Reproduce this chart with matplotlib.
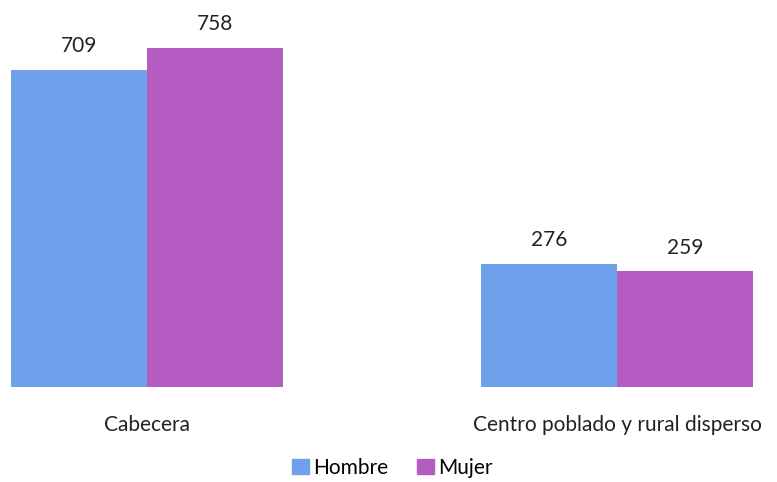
import numpy as np
import matplotlib.pyplot as plt
from matplotlib.patches import Patch

categories = ['Cabecera', 'Centro poblado y rural disperso']
series_names = ['Hombre', 'Mujer']
hombre = [709, 276]
mujer = [758, 259]
colors = ['#6ea0ec', '#b55cc3']

plt.rcParams['font.family'] = ['Lato', 'DejaVu Sans']

fig = plt.figure(figsize=(7.77, 4.82), dpi=100)
ax = fig.add_axes([0, 0.197, 1, 0.803])

x = np.arange(len(categories))
w = 0.289
ax.bar(x - w / 2, hombre, w, color=colors[0])
ax.bar(x + w / 2, mujer, w, color=colors[1])

for xi, v in zip(x - w / 2, hombre):
    ax.text(xi, v + 30, str(v), ha='center', va='bottom', fontsize=15, color='#222222')
for xi, v in zip(x + w / 2, mujer):
    ax.text(xi, v + 30, str(v), ha='center', va='bottom', fontsize=15, color='#222222')

ax.set_xlim(-0.3128, 1.34)
ax.set_ylim(0, 865)
ax.set_xticks(x)
ax.set_xticklabels(categories, fontsize=15, color='#222222')
ax.tick_params(axis='x', length=0, pad=20)
ax.set_yticks([])
for s in ax.spines.values():
    s.set_visible(False)

handles = [Patch(color=c) for c in colors]
fig.legend(handles, series_names, loc='lower center', bbox_to_anchor=(0.505, -0.03),
           ncol=2, frameon=False, fontsize=15, handlelength=0.8, handleheight=0.8,
           handletextpad=0.2, columnspacing=1.4)

plt.savefig('out.png', dpi=100)
